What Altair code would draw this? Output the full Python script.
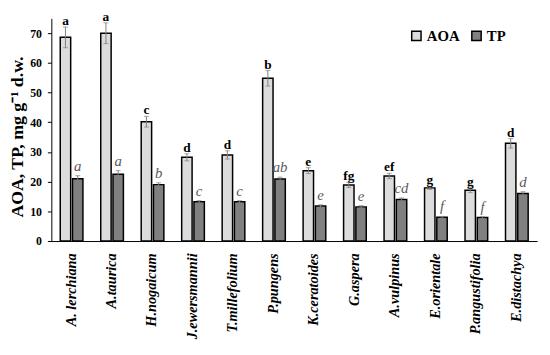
import altair as alt
import pandas as pd

species = ["A. lerchiana", "A.taurica", "H.nogaicum", "J.ewersmannii", "T.millefolium",
           "P.pungens", "K.ceratoides", "G.aspera", "A.vulpinus", "E.orientale",
           "P.angustifolia", "E.distachya"]
aoa = [68.6, 70.0, 40.2, 28.2, 29.0, 54.8, 23.7, 18.9, 21.9, 17.9, 17.1, 32.9]
aoa_err = [3.5, 3.5, 1.8, 1.2, 1.4, 2.6, 1.0, 0.9, 0.9, 0.5, 0.8, 1.6]
aoa_letters = ["a", "a", "c", "d", "d", "b", "e", "fg", "ef", "g", "g", "d"]
tp = [21.0, 22.5, 19.0, 13.2, 13.2, 20.9, 11.8, 11.5, 14.0, 8.0, 7.9, 16.0]
tp_err = [1.0, 1.2, 0.6, 0.4, 0.4, 0.6, 0.4, 0.4, 0.5, 0.3, 0.3, 0.6]
tp_letters = ["a", "a", "b", "c", "c", "ab", "e", "e", "cd", "f", "f", "d"]

rows = []
for i, s in enumerate(species):
    rows.append({"species": s, "series": "AOA", "value": aoa[i], "err": aoa_err[i],
                 "lo": aoa[i] - aoa_err[i], "hi": aoa[i] + aoa_err[i], "letter": aoa_letters[i]})
    rows.append({"species": s, "series": "TP", "value": tp[i], "err": tp_err[i],
                 "lo": tp[i] - tp_err[i], "hi": tp[i] + tp_err[i], "letter": tp_letters[i]})
df = pd.DataFrame(rows)

FONT = "Liberation Serif"

x = alt.X("species:N", sort=species, title=None,
          scale=alt.Scale(paddingInner=0.44, paddingOuter=0.22),
          axis=alt.Axis(labelAngle=270, labelFont=FONT, labelFontStyle="italic",
                        labelFontWeight="bold", labelFontSize=14.5, labelColor="black",
                        labelPadding=12, ticks=False, domainColor="black", domainWidth=1))
xo = alt.XOffset("series:N", sort=["AOA", "TP"], scale=alt.Scale(paddingInner=0.15))
yscale = alt.Scale(domain=[0, 75], nice=False)
yaxis = alt.Axis(values=[0, 10, 20, 30, 40, 50, 60, 70], grid=False, labelOverlap=False,
                 labelFont=FONT, labelFontWeight="bold", labelFontSize=12,
                 labelColor="black", tickColor="black", tickSize=4,
                 labelPadding=6, domainColor="black",
                 titleFont=FONT, titleFontWeight="bold", titleFontSize=18,
                 titleColor="black", titlePadding=3, titleY=120)
TITLE = "AOA, TP, mg g⁻¹ d.w."

base = alt.Chart(df)

bars = base.mark_bar(stroke="black", strokeWidth=1.5).encode(
    x=x, xOffset=xo,
    y=alt.Y("value:Q", scale=yscale, title=TITLE, axis=yaxis),
    fill=alt.Fill("series:N", scale=alt.Scale(domain=["AOA", "TP"], range=["#dcdcdc", "#808080"]),
                  legend=alt.Legend(title=None, orient="none", legendX=363, legendY=10,
                                    direction="horizontal", symbolType="square",
                                    symbolStrokeColor="black", symbolStrokeWidth=1.5,
                                    symbolSize=90, labelFont=FONT, labelFontWeight="bold",
                                    labelFontSize=15, labelColor="black", columnPadding=8,
                                    labelOffset=3)),
)

rules = base.mark_rule(color="#7f7f7f", strokeWidth=1).encode(
    x=x, xOffset=xo, y=alt.Y("lo:Q", scale=yscale, title=TITLE, axis=yaxis), y2="hi:Q")
caps_hi = base.mark_tick(color="#7f7f7f", thickness=1, size=5).encode(
    x=x, xOffset=xo, y=alt.Y("hi:Q", scale=yscale, title=TITLE, axis=yaxis))
caps_lo = base.mark_tick(color="#7f7f7f", thickness=1, size=5).encode(
    x=x, xOffset=xo, y=alt.Y("lo:Q", scale=yscale, title=TITLE, axis=yaxis))

txt_aoa = base.transform_filter(alt.datum.series == "AOA").mark_text(
    font=FONT, fontWeight="bold", fontSize=13.5, color="black", baseline="alphabetic", dy=-2
).encode(x=x, xOffset=xo, y=alt.Y("hi:Q", scale=yscale, title=TITLE, axis=yaxis), text="letter:N")

txt_tp = base.transform_filter(alt.datum.series == "TP").mark_text(
    font=FONT, fontStyle="italic", fontSize=15, color="#5a5a5a", baseline="alphabetic", dy=-5
).encode(x=x, xOffset=xo, y=alt.Y("hi:Q", scale=yscale, title=TITLE, axis=yaxis), text="letter:N")

chart = alt.layer(bars, rules, caps_hi, caps_lo, txt_aoa, txt_tp).properties(
    width=493, height=226,
    autosize=alt.AutoSizeParams(type="none"),
    padding={"left": 44, "top": 8, "right": 5, "bottom": 102},
).configure_view(stroke=None)

chart.save("out.html", embed_options={"renderer": "svg", "actions": False})
